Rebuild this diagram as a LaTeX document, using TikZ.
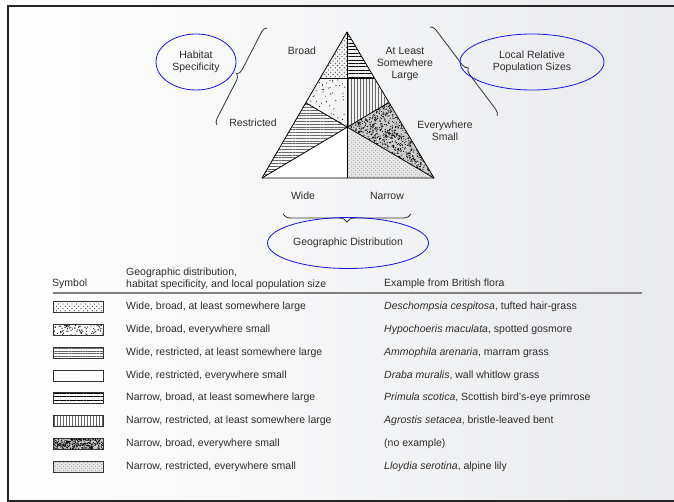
\documentclass[tikz,border=0pt]{standalone}
\usepackage{fontspec}
\setmainfont{Liberation Sans}
\usetikzlibrary{decorations.pathreplacing,patterns.meta,shapes.geometric}
\definecolor{bgr}{RGB}{233,234,237}
\definecolor{txt}{RGB}{45,45,45}
\definecolor{ellblue}{RGB}{20,20,235}
\newcommand{\rdots}[6]{\foreach \ii in {1,...,#5}{\pgfmathsetmacro{\rx}{#1+rnd*#3}\pgfmathsetmacro{\ry}{#2+rnd*#4}\fill[black] (\rx,\ry) circle[radius=#6];}}
\begin{document}
\begin{tikzpicture}[x=1pt,y=-1pt,
  lbl/.style={font=\fontsize{10.5}{12}\selectfont, text=txt, align=center, inner sep=0pt},
  tbl/.style={font=\fontsize{10.5}{12}\selectfont, text=txt, anchor=west, inner sep=0pt},
  ell/.style={ellipse, draw=ellblue, line width=0.8pt, font=\fontsize{10.5}{12}\selectfont, text=txt, align=center, inner sep=0pt},
  brc/.style={decorate, draw=black!80, line width=0.8pt},
  swatch/.style={draw=black!80, line width=0.7pt},
  edge/.style={draw=black, line width=0.8pt, line join=round},
  pdotsA/.style={pattern={Dots[distance=4.5pt,radius=0.55pt]}, pattern color=black!75},
  pdotsB/.style={pattern={Dots[distance=4.5pt,radius=0.55pt,xshift=2.25pt,yshift=2.25pt]}, pattern color=black!75},
  thickh/.style={pattern={Lines[distance=3.4pt,line width=0.9pt]}, pattern color=black},
  thinh/.style={pattern={Lines[distance=2.8pt,line width=0.35pt]}, pattern color=black!60},
  vert/.style={pattern={Lines[angle=90,distance=3pt,line width=0.4pt]}, pattern color=black!60},
  xdotsA/.style={pattern={Dots[distance=4pt,radius=0.6pt]}, pattern color=black!45},
  xdotsB/.style={pattern={Dots[distance=4pt,radius=0.6pt,xshift=2pt,yshift=2pt]}, pattern color=black!45},
]
\pgfmathsetseed{7}
\useasboundingbox (0,0) rectangle (674,502);
\shade[left color=white, right color=bgr] (0,0) rectangle (674,502);
\draw[line width=1.4pt, black!85] (674,6) -- (8,6) -- (8,501) -- (674,501);

% triangle points
\coordinate (A) at (347,32);
\coordinate (BL) at (262,178);
\coordinate (BR) at (434,178);
\coordinate (C) at (347,127);
\coordinate (M) at (347,78);
\coordinate (B) at (347,178);
\coordinate (L1) at (320.2,78);
\coordinate (R1) at (373.8,78);
\coordinate (P) at (305.8,102.8);
\coordinate (Q) at (388.2,102.8);

% regions
\path[pdotsA] (A) -- (M) -- (L1) -- cycle;
\path[pdotsB] (A) -- (M) -- (L1) -- cycle;
\path[thickh] (A) -- (R1) -- (M) -- cycle;
\begin{scope}
  \clip (L1) -- (M) -- (C) -- (P) -- cycle;
  \rdots{304}{77}{44}{51}{75}{0.55pt}
\end{scope}
\path[vert] (M) -- (R1) -- (Q) -- (C) -- cycle;
\path[thinh] (P) -- (C) -- (BL) -- cycle;
\fill[white] (BL) -- (C) -- (B) -- cycle;
\begin{scope}
  \clip (C) -- (Q) -- (BR) -- cycle;
  \fill[black!20] (C) -- (Q) -- (BR) -- cycle;
  \rdots{346}{101}{89}{78}{1700}{0.6pt}
\end{scope}
\fill[black!10] (C) -- (BR) -- (B) -- cycle;
\path[xdotsA] (C) -- (BR) -- (B) -- cycle;
\path[xdotsB] (C) -- (BR) -- (B) -- cycle;

% edges
\draw[edge] (A) -- (BL) -- (BR) -- cycle;
\draw[edge] (L1) -- (R1);
\draw[edge] (A) -- (B);
\draw[edge] (BL) -- (Q);
\draw[edge] (BR) -- (P);

% labels
\node[lbl] (broad) at (302,51) {Broad};
\node[lbl] (large) at (405,64) {At Least\\Somewhere\\Large};
\node[lbl] (restr) at (253,123) {Restricted};
\node[lbl] (small) at (445,131) {Everywhere\\Small};
\node[lbl] (wide) at (303,196) {Wide};
\node[lbl] (narrow) at (387,196) {Narrow};

% braces
\coordinate (lb1) at (217,125);
\coordinate (lb2) at (267,28);
\coordinate (rb1) at (430,27);
\coordinate (rb2) at (497,116);
\coordinate (bb1) at (411,214);
\coordinate (bb2) at (283,214);
\draw[brc, decoration={brace, amplitude=6pt}] (lb1) -- (lb2);
\draw[brc, decoration={brace, amplitude=6pt}] (rb1) -- (rb2);
\draw[brc, decoration={brace, amplitude=8pt}] (bb1) -- (bb2);

% ellipses
\node[ell, minimum width=80pt, minimum height=56pt] (hs) at (196,62) {Habitat\\Specificity};
\node[ell, minimum width=144pt, minimum height=56pt] (lr) at (532,62) {Local Relative\\Population Sizes};
\node[ell, minimum width=161pt, minimum height=51pt] (gd) at (348,243) {Geographic Distribution};

% table header
\node[tbl] (hsym) at (52,284) {Symbol};
\node[tbl, align=left, anchor=south west] (hgeo) at (126,289.5) {Geographic distribution,\\habitat specificity, and local population size};
\node[tbl] (hex) at (384,284) {Example from British flora};
\draw[line width=1.5pt, black!50] (53,293) -- (642,293);

% swatches
\path[pdotsA] (53,301.5) rectangle (103,312.5);
\path[pdotsB] (53,301.5) rectangle (103,312.5);
\draw[swatch] (53,301.5) rectangle (103,312.5);
\begin{scope}
  \clip (53,324.3) rectangle (103,335.3);
  \rdots{52}{323}{52}{13}{110}{0.6pt}
\end{scope}
\draw[swatch] (53,324.3) rectangle (103,335.3);
\path[thinh] (53,347.1) rectangle (103,358.1);
\draw[swatch] (53,347.1) rectangle (103,358.1);
\fill[white] (53,369.9) rectangle (103,380.9);
\draw[swatch] (53,369.9) rectangle (103,380.9);
\path[thickh] (53,392.7) rectangle (103,403.7);
\draw[swatch] (53,392.7) rectangle (103,403.7);
\path[vert] (53,415.5) rectangle (103,426.5);
\draw[swatch] (53,415.5) rectangle (103,426.5);
\begin{scope}
  \clip (53,438.3) rectangle (103,449.3);
  \fill[black!20] (53,438.3) rectangle (103,449.3);
  \rdots{52}{437}{52}{13}{420}{0.6pt}
\end{scope}
\draw[swatch] (53,438.3) rectangle (103,449.3);
\fill[black!10] (53,461.1) rectangle (103,472.1);
\path[xdotsA] (53,461.1) rectangle (103,472.1);
\path[xdotsB] (53,461.1) rectangle (103,472.1);
\draw[swatch] (53,461.1) rectangle (103,472.1);

% table rows
\node[tbl] (g1) at (126,307) {Wide, broad, at least somewhere large};
\node[tbl] (g2) at (126,329.8) {Wide, broad, everywhere small};
\node[tbl] (g3) at (126,352.6) {Wide, restricted, at least somewhere large};
\node[tbl] (g4) at (126,375.4) {Wide, restricted, everywhere small};
\node[tbl] (g5) at (126,398.2) {Narrow, broad, at least somewhere large};
\node[tbl] (g6) at (126,421) {Narrow, restricted, at least somewhere large};
\node[tbl] (g7) at (126,443.8) {Narrow, broad, everywhere small};
\node[tbl] (g8) at (126,466.6) {Narrow, restricted, everywhere small};

\node[tbl] (e1) at (384,307) {\textit{Deschompsia cespitosa}, tufted hair-grass};
\node[tbl] (e2) at (384,329.8) {\textit{Hypochoeris maculata}, spotted gosmore};
\node[tbl] (e3) at (384,352.6) {\textit{Ammophila arenaria}, marram grass};
\node[tbl] (e4) at (384,375.4) {\textit{Draba muralis}, wall whitlow grass};
\node[tbl] (e5) at (384,398.2) {\textit{Primula scotica}, Scottish bird's-eye primrose};
\node[tbl] (e6) at (384,421) {\textit{Agrostis setacea}, bristle-leaved bent};
\node[tbl] (e7) at (384,443.8) {(no example)};
\node[tbl] (e8) at (384,466.6) {\textit{Lloydia serotina}, alpine lily};
\end{tikzpicture}
\end{document}
